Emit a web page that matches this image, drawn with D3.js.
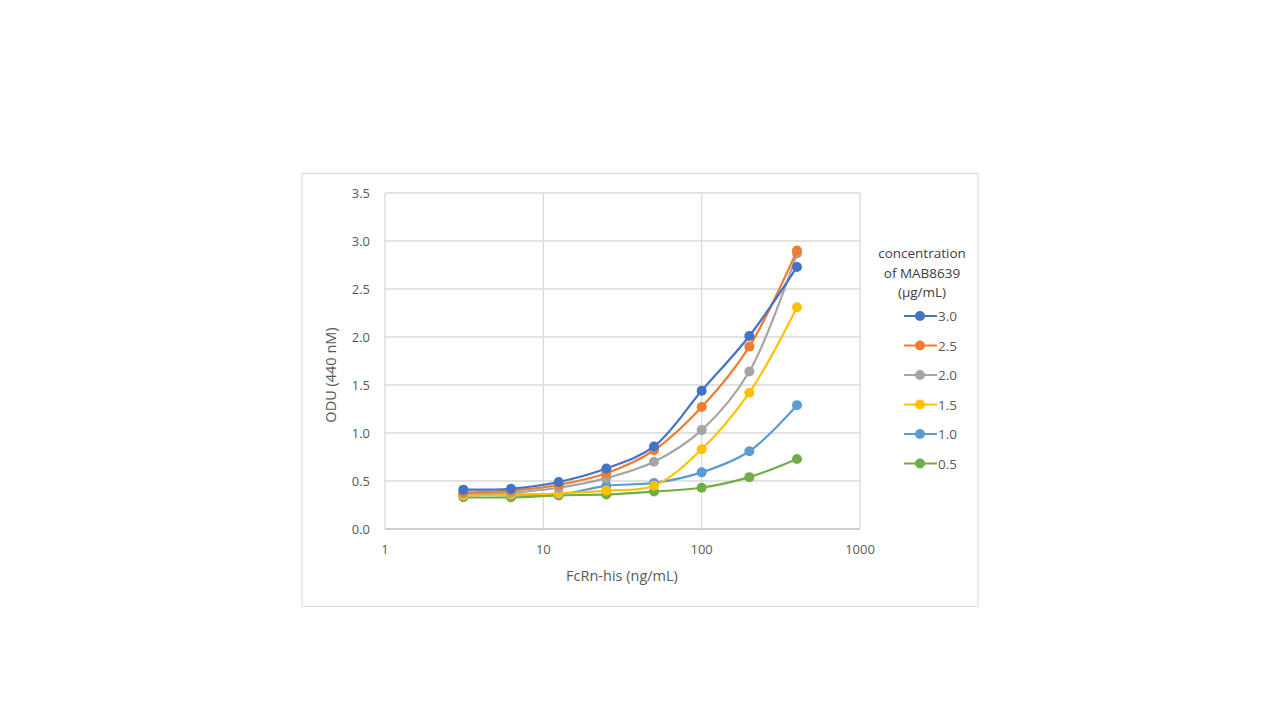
<!DOCTYPE html>
<html><head><meta charset="utf-8">
<script src="https://cdn.jsdelivr.net/npm/d3@7"></script>
<style>body{margin:0;background:#fff;font-family:"Open Sans",sans-serif}</style>
</head><body>
<svg width="1280" height="720"></svg>
<script>
const xVals = [3.125, 6.25, 12.5, 25, 50, 100, 200, 400];
const seriesNames = ['3.0', '2.5', '2.0', '1.5', '1.0', '0.5'];
const colors = ['#4472C4', '#ED7D31', '#A5A5A5', '#FFC000', '#5B9BD5', '#70AD47'];
const s30 = [0.41, 0.42, 0.49, 0.63, 0.86, 1.44, 2.01, 2.73];
const s25 = [0.38, 0.40, 0.46, 0.58, 0.82, 1.27, 1.90, 2.90];
const s20 = [0.37, 0.38, 0.43, 0.53, 0.70, 1.03, 1.64, 2.87];
const s15 = [0.35, 0.36, 0.37, 0.40, 0.45, 0.83, 1.42, 2.31];
const s10 = [0.36, 0.36, 0.36, 0.45, 0.48, 0.59, 0.81, 1.29];
const s05 = [0.33, 0.33, 0.35, 0.36, 0.39, 0.43, 0.54, 0.73];
const seriesVals = [s30, s25, s20, s15, s10, s05];
const xTicks = [1, 10, 100, 1000];
const yTicks = [0, 0.5, 1, 1.5, 2, 2.5, 3, 3.5];

const svg = d3.select('svg');
svg.append('rect').attr('x', 302).attr('y', 173.5).attr('width', 676).attr('height', 433)
   .attr('fill', '#fff').attr('stroke', '#d9d9d9');

const x = d3.scaleLog().domain([1, 1000]).range([385, 860]);
const y = d3.scaleLinear().domain([0, 3.5]).range([529, 193]);
const g = svg.append('g');

// gridlines
g.selectAll('.hg').data(yTicks).enter().append('line')
 .attr('x1', 385).attr('x2', 860).attr('y1', d => y(d)).attr('y2', d => y(d))
 .attr('stroke', d => d === 0 ? '#bfbfbf' : '#d9d9d9').attr('stroke-width', 1.3);
g.selectAll('.vg').data(xTicks).enter().append('line')
 .attr('y1', 193).attr('y2', 529).attr('x1', d => x(d)).attr('x2', d => x(d))
 .attr('stroke', '#d9d9d9').attr('stroke-width', 1.3);

g.selectAll('.yl').data(yTicks).enter().append('text')
 .attr('x', 370).attr('y', d => y(d) + 5).attr('text-anchor', 'end')
 .attr('font-size', 13).attr('fill', '#595959').text(d => d.toFixed(1));
g.selectAll('.xl').data(xTicks).enter().append('text')
 .attr('x', d => x(d)).attr('y', 554).attr('text-anchor', 'middle')
 .attr('font-size', 13).attr('fill', '#595959').text(d => d);

svg.append('text').attr('x', 622).attr('y', 581).attr('text-anchor', 'middle')
 .attr('font-size', 14.5).attr('fill', '#595959').text('FcRn-his (ng/mL)');
svg.append('text').attr('transform', 'translate(336,375) rotate(-90)').attr('text-anchor', 'middle')
 .attr('font-size', 14.5).attr('fill', '#595959').text('ODU (440 nM)');

const line = d3.line().x(d => x(d[0])).y(d => y(d[1])).curve(d3.curveCatmullRom.alpha(0.5));
// draw from last to first so 3.0 ends on top
[...seriesVals.keys()].reverse().forEach(i => {
  const pts = xVals.map((v, j) => [v, seriesVals[i][j]]);
  g.append('path').attr('d', line(pts)).attr('fill', 'none')
   .attr('stroke', colors[i]).attr('stroke-width', 2.2);
  g.selectAll('.p' + i).data(pts).enter().append('circle')
   .attr('cx', d => x(d[0])).attr('cy', d => y(d[1])).attr('r', 5).attr('fill', colors[i]);
});

// legend
const lg = svg.append('g');
['concentration', 'of MAB8639', '(µg/mL)'].forEach((t, i) => {
  lg.append('text').attr('x', 922).attr('y', 258 + i * 19.5).attr('text-anchor', 'middle')
    .attr('font-size', 13.5).attr('fill', '#404040').text(t);
});
seriesNames.forEach((n, i) => {
  const ly = 316 + i * 29.5;
  lg.append('line').attr('x1', 904).attr('x2', 937).attr('y1', ly).attr('y2', ly)
    .attr('stroke', colors[i]).attr('stroke-width', 2.2);
  lg.append('circle').attr('cx', 920).attr('cy', ly).attr('r', 5).attr('fill', colors[i]);
  lg.append('text').attr('x', 938).attr('y', ly + 5).attr('font-size', 13.5)
    .attr('fill', '#595959').text(n);
});
</script>
</body></html>
